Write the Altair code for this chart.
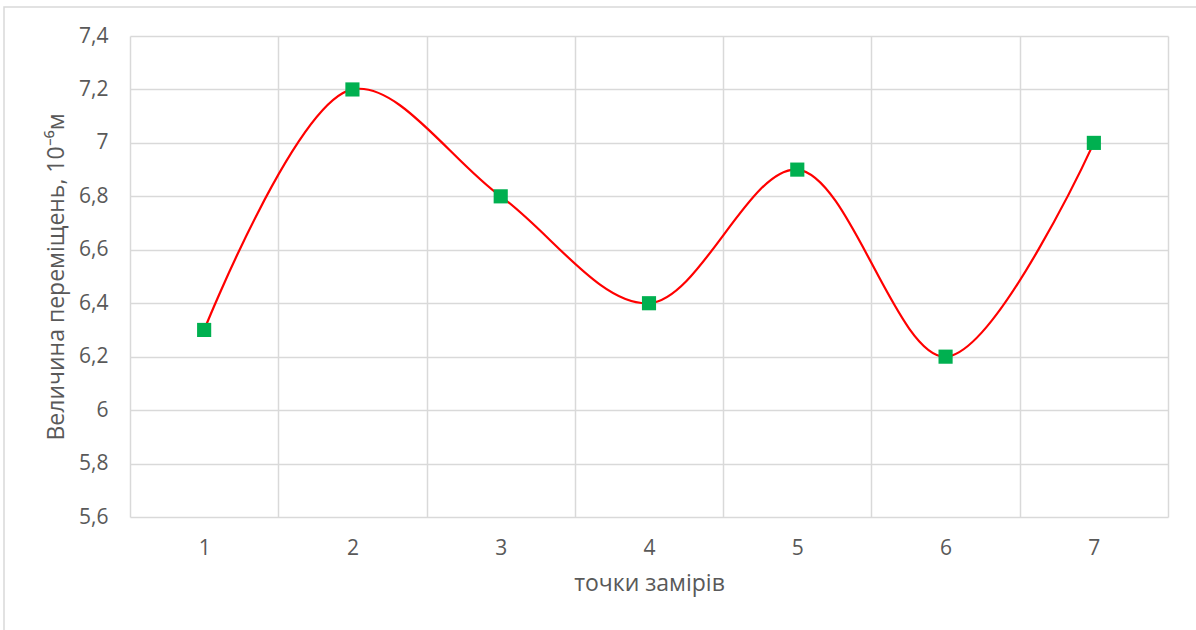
import altair as alt
import pandas as pd

# Measurement points and displacement values
points = [1, 2, 3, 4, 5, 6, 7]
displacement = [6.3, 7.2, 6.8, 6.4, 6.9, 6.2, 7.0]

y_ticks = [5.6, 5.8, 6.0, 6.2, 6.4, 6.6, 6.8, 7.0, 7.2, 7.4]

df = pd.DataFrame({"point": points, "value": displacement})

FONT = "Open Sans"
TEXT = "#595959"
GRID = "#d9d9d9"

x_scale = alt.Scale(type="band", paddingInner=0, paddingOuter=0)
y_scale = alt.Scale(domain=[5.6, 7.4], nice=False, zero=False)

x_axis = alt.Axis(
    title="точки замірів",
    tickBand="extent",
    grid=True,
    gridColor=GRID,
    gridWidth=1.5,
    ticks=False,
    domain=False,
    labelAngle=0,
    labelPadding=20,
    titlePadding=14,
)
y_axis = alt.Axis(
    title="Величина переміщень, 10⁻⁶м",
    values=y_ticks,
    grid=True,
    gridColor=GRID,
    gridWidth=1.5,
    ticks=False,
    domain=False,
    labelPadding=22,
    titlePadding=10,
    labelExpr="replace(toString(round(datum.value * 10) / 10), '.', ',')",
)

base = alt.Chart(df)

line = base.mark_line(
    color="#ff0000", strokeWidth=2.2, interpolate="catmull-rom"
).encode(
    x=alt.X("point:O", bandPosition=0.5, scale=x_scale, axis=x_axis),
    y=alt.Y("value:Q", scale=y_scale, axis=y_axis),
)

markers = base.mark_point(
    shape="square", filled=True, size=200, color="#00b050", opacity=1
).encode(
    x=alt.X("point:O", bandPosition=0.5, scale=x_scale),
    y=alt.Y("value:Q", scale=y_scale),
)

# Light outline around the whole chart area
frame = alt.Chart(pd.DataFrame({"k": [0]})).mark_rect(
    fill=None, stroke=GRID, strokeWidth=1.5
).encode(
    x=alt.value(-126), x2=alt.value(1200),
    y=alt.value(-29), y2=alt.value(700),
)

chart = alt.layer(frame, line, markers).properties(
    width=1038,
    height=481,
    padding={"left": 130, "top": 36, "right": 28, "bottom": 113},
    autosize=alt.AutoSizeParams(type="none"),
    background="white",
).configure_view(
    stroke=None
).configure_axis(
    labelFont=FONT,
    titleFont=FONT,
    labelFontSize=21,
    titleFontSize=23,
    labelColor=TEXT,
    titleColor=TEXT,
    titleFontWeight="normal",
)

chart.save("out.html", embed_options={"renderer": "svg", "actions": False})
